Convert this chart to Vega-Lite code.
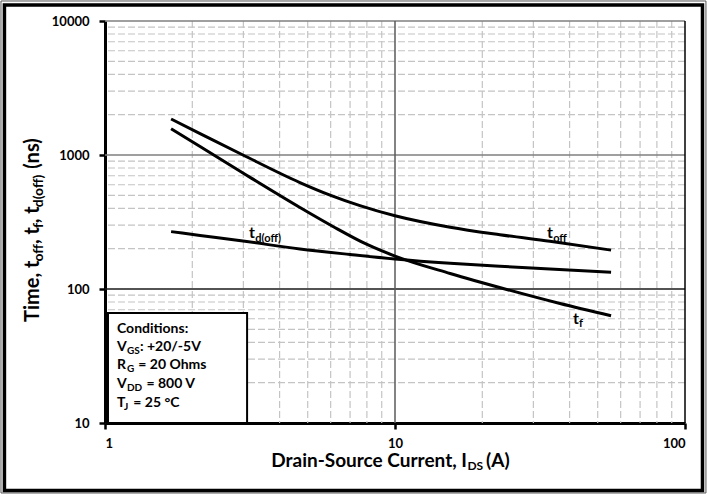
{
  "$schema": "https://vega.github.io/schema/vega-lite/v6.json",
  "width": 580,
  "height": 402,
  "autosize": "none",
  "padding": {"left": 105, "top": 21, "right": 22, "bottom": 71},
  "background": "white",
  "config": {
    "view": {"stroke": null},
    "font": "Lato",
    "axis": {
      "labelFont": "Lato", "labelFontWeight": "bold", "labelFontSize": 13, "labelColor": "black",
      "domainColor": "black", "domainWidth": 3, "tickColor": "black", "tickWidth": 2.5, "tickSize": 6,
      "grid": false, "title": null
    }
  },
  "datasets": {
    "curves": [
      {"s": "toff", "x": 1.69, "y": 1857}, {"s": "toff", "x": 2.127, "y": 1446}, {"s": "toff", "x": 2.99, "y": 1000},
      {"s": "toff", "x": 4.70, "y": 623}, {"s": "toff", "x": 5.97, "y": 502}, {"s": "toff", "x": 7.57, "y": 419},
      {"s": "toff", "x": 10.0, "y": 352}, {"s": "toff", "x": 15.49, "y": 289}, {"s": "toff", "x": 23.0, "y": 254},
      {"s": "toff", "x": 34.2, "y": 227}, {"s": "toff", "x": 55.6, "y": 195},
      {"s": "tf", "x": 1.69, "y": 1572}, {"s": "tf", "x": 2.127, "y": 1157}, {"s": "tf", "x": 2.99, "y": 734},
      {"s": "tf", "x": 4.70, "y": 406}, {"s": "tf", "x": 6.11, "y": 293}, {"s": "tf", "x": 8.01, "y": 215},
      {"s": "tf", "x": 10.0, "y": 176}, {"s": "tf", "x": 15.49, "y": 130.5}, {"s": "tf", "x": 24.28, "y": 99.2},
      {"s": "tf", "x": 37.07, "y": 77.9}, {"s": "tf", "x": 55.6, "y": 63.2},
      {"s": "td", "x": 1.69, "y": 268}, {"s": "td", "x": 2.127, "y": 251}, {"s": "td", "x": 2.99, "y": 228},
      {"s": "td", "x": 4.70, "y": 199}, {"s": "td", "x": 7.0, "y": 181}, {"s": "td", "x": 10.0, "y": 167.4},
      {"s": "td", "x": 15.49, "y": 155.5}, {"s": "td", "x": 23.0, "y": 147.7}, {"s": "td", "x": 34.2, "y": 141},
      {"s": "td", "x": 55.6, "y": 133.2}
    ],
    "minorX": [{"v": 2}, {"v": 3}, {"v": 4}, {"v": 5}, {"v": 6}, {"v": 7}, {"v": 8}, {"v": 9},
      {"v": 20}, {"v": 30}, {"v": 40}, {"v": 50}, {"v": 60}, {"v": 70}, {"v": 80}, {"v": 90}],
    "minorY": [{"v": 20}, {"v": 30}, {"v": 40}, {"v": 50}, {"v": 60}, {"v": 70}, {"v": 80}, {"v": 90},
      {"v": 200}, {"v": 300}, {"v": 400}, {"v": 500}, {"v": 600}, {"v": 700}, {"v": 800}, {"v": 900},
      {"v": 2000}, {"v": 3000}, {"v": 4000}, {"v": 5000}, {"v": 6000}, {"v": 7000}, {"v": 8000}, {"v": 9000}],
    "frame": [{"x": 0.450, "x2": 114.9, "y": 13163, "y2": 3.135}],
    "frameOuter": [{"x": 0.4378, "x2": 118.1, "y": 14104, "y2": 3.004}],
    "box": [{"x": 1.024, "x2": 3.09, "y": 66.2, "y2": 10}],
    "curveMain": [{"x": 3.14, "y": 240, "t": "t"}, {"x": 33.4, "y": 240, "t": "t"}, {"x": 41.1, "y": 54.8, "t": "t"}],
    "curveSub": [{"x": 3.30, "y": 224, "t": "d(off)"}, {"x": 35.1, "y": 226, "t": "off"}, {"x": 43.1, "y": 52.0, "t": "f"}],
    "boxMain": [
      {"x": 1.100, "y": 46.9, "t": "Conditions:"},
      {"x": 1.100, "y": 34.5, "t": "V"}, {"x": 1.320, "y": 34.5, "t": ": +20/-5V"},
      {"x": 1.100, "y": 25.3, "t": "R"}, {"x": 1.303, "y": 25.3, "t": "= 20 Ohms"},
      {"x": 1.100, "y": 18.4, "t": "V"}, {"x": 1.390, "y": 18.4, "t": "= 800 V"},
      {"x": 1.100, "y": 13.2, "t": "T"}, {"x": 1.252, "y": 13.2, "t": "= 25 °C"}
    ],
    "boxSub": [
      {"x": 1.191, "y": 32.7, "t": "GS"}, {"x": 1.191, "y": 24.0, "t": "G"},
      {"x": 1.191, "y": 17.4, "t": "DD"}, {"x": 1.163, "y": 12.6, "t": "J"}
    ],
    "xTitleR": [{"x": 17.7, "y": 4.70, "t": "Drain-Source Current, I"}],
    "xTitleL": [{"x": 20.6, "y": 4.70, "t": "(A)"}],
    "xTitleSub": [{"x": 17.78, "y": 4.46, "t": "DS"}],
    "yTitleMain": [
      {"x": 0.590, "y": 56.7, "t": "Time, t"}, {"x": 0.590, "y": 216.3, "t": ", t"},
      {"x": 0.590, "y": 309.3, "t": ", t"}, {"x": 0.590, "y": 788.9, "t": "(ns)"}
    ],
    "yTitleSub": [
      {"x": 0.611, "y": 160.4, "t": "off"}, {"x": 0.611, "y": 284.8, "t": "f"}, {"x": 0.611, "y": 407.1, "t": "d(off)"}
    ]
  },
  "layer": [
    {
      "data": {"name": "minorX"},
      "mark": {"type": "rule", "color": "#c4c4c4", "strokeWidth": 1.2, "strokeDash": [7, 3]},
      "encoding": {
        "x": {"field": "v", "type": "quantitative",
          "scale": {"type": "log", "domain": [1, 100], "nice": false},
          "axis": {"values": [1, 10, 100], "format": "d", "labelPadding": 8, "orient": "bottom"}}
      }
    },
    {
      "data": {"name": "minorY"},
      "mark": {"type": "rule", "color": "#c4c4c4", "strokeWidth": 1.2, "strokeDash": [7, 3]},
      "encoding": {
        "y": {"field": "v", "type": "quantitative",
          "scale": {"type": "log", "domain": [10, 10000], "nice": false},
          "axis": {"values": [10, 100, 1000, 10000], "format": "d", "labelPadding": 10}}
      }
    },
    {
      "data": {"values": [{"v": 1000}, {"v": 10000}]},
      "mark": {"type": "rule", "color": "#7f7f7f", "strokeWidth": 1.5},
      "encoding": {"y": {"field": "v", "type": "quantitative"}}
    },
    {
      "data": {"values": [{"v": 100}]},
      "mark": {"type": "rule", "color": "#1a1a1a", "strokeWidth": 1.3},
      "encoding": {"y": {"field": "v", "type": "quantitative"}}
    },
    {
      "data": {"values": [{"v": 10}]},
      "mark": {"type": "rule", "color": "#5a5a5a", "strokeWidth": 1.5},
      "encoding": {"x": {"field": "v", "type": "quantitative"}}
    },
    {
      "data": {"values": [{"v": 100}]},
      "mark": {"type": "rule", "color": "black", "strokeWidth": 1.5},
      "encoding": {"x": {"field": "v", "type": "quantitative"}}
    },
    {
      "data": {"name": "box"},
      "mark": {"type": "rect", "fill": "white", "stroke": "black", "strokeWidth": 2},
      "encoding": {
        "x": {"field": "x", "type": "quantitative"}, "x2": {"field": "x2"},
        "y": {"field": "y", "type": "quantitative"}, "y2": {"field": "y2"}
      }
    },
    {
      "data": {"name": "curves"},
      "mark": {"type": "line", "interpolate": "monotone", "strokeWidth": 3, "color": "black"},
      "encoding": {
        "x": {"field": "x", "type": "quantitative"},
        "y": {"field": "y", "type": "quantitative"},
        "detail": {"field": "s"}
      }
    },
    {
      "data": {"name": "frameOuter"},
      "mark": {"type": "rect", "fill": "transparent", "stroke": "#555555", "strokeWidth": 1},
      "encoding": {
        "x": {"field": "x", "type": "quantitative"}, "x2": {"field": "x2"},
        "y": {"field": "y", "type": "quantitative"}, "y2": {"field": "y2"}
      }
    },
    {
      "data": {"name": "frame"},
      "mark": {"type": "rect", "fill": "transparent", "stroke": "black", "strokeWidth": 3.5},
      "encoding": {
        "x": {"field": "x", "type": "quantitative"}, "x2": {"field": "x2"},
        "y": {"field": "y", "type": "quantitative"}, "y2": {"field": "y2"}
      }
    },
    {
      "data": {"name": "curveMain"},
      "mark": {"type": "text", "align": "left", "baseline": "alphabetic", "fontSize": 16, "fontWeight": "bold", "color": "black"},
      "encoding": {"x": {"field": "x", "type": "quantitative"}, "y": {"field": "y", "type": "quantitative"}, "text": {"field": "t"}}
    },
    {
      "data": {"name": "curveSub"},
      "mark": {"type": "text", "align": "left", "baseline": "alphabetic", "fontSize": 11, "fontWeight": "bold", "color": "black"},
      "encoding": {"x": {"field": "x", "type": "quantitative"}, "y": {"field": "y", "type": "quantitative"}, "text": {"field": "t"}}
    },
    {
      "data": {"name": "boxMain"},
      "mark": {"type": "text", "align": "left", "baseline": "alphabetic", "fontSize": 14, "fontWeight": "bold", "color": "black"},
      "encoding": {"x": {"field": "x", "type": "quantitative"}, "y": {"field": "y", "type": "quantitative"}, "text": {"field": "t"}}
    },
    {
      "data": {"name": "boxSub"},
      "mark": {"type": "text", "align": "left", "baseline": "alphabetic", "fontSize": 10, "fontWeight": "bold", "color": "black"},
      "encoding": {"x": {"field": "x", "type": "quantitative"}, "y": {"field": "y", "type": "quantitative"}, "text": {"field": "t"}}
    },
    {
      "data": {"name": "xTitleR"},
      "mark": {"type": "text", "align": "right", "baseline": "alphabetic", "fontSize": 19, "fontWeight": "bold", "color": "black"},
      "encoding": {"x": {"field": "x", "type": "quantitative"}, "y": {"field": "y", "type": "quantitative"}, "text": {"field": "t"}}
    },
    {
      "data": {"name": "xTitleL"},
      "mark": {"type": "text", "align": "left", "baseline": "alphabetic", "fontSize": 19, "fontWeight": "bold", "color": "black"},
      "encoding": {"x": {"field": "x", "type": "quantitative"}, "y": {"field": "y", "type": "quantitative"}, "text": {"field": "t"}}
    },
    {
      "data": {"name": "xTitleSub"},
      "mark": {"type": "text", "align": "left", "baseline": "alphabetic", "fontSize": 12, "fontWeight": "bold", "color": "black"},
      "encoding": {"x": {"field": "x", "type": "quantitative"}, "y": {"field": "y", "type": "quantitative"}, "text": {"field": "t"}}
    },
    {
      "data": {"name": "yTitleMain"},
      "mark": {"type": "text", "align": "left", "baseline": "alphabetic", "angle": 270, "fontSize": 20, "fontWeight": "bold", "color": "black"},
      "encoding": {"x": {"field": "x", "type": "quantitative"}, "y": {"field": "y", "type": "quantitative"}, "text": {"field": "t"}}
    },
    {
      "data": {"name": "yTitleSub"},
      "mark": {"type": "text", "align": "left", "baseline": "alphabetic", "angle": 270, "fontSize": 14, "fontWeight": "bold", "color": "black"},
      "encoding": {"x": {"field": "x", "type": "quantitative"}, "y": {"field": "y", "type": "quantitative"}, "text": {"field": "t"}}
    }
  ]
}
